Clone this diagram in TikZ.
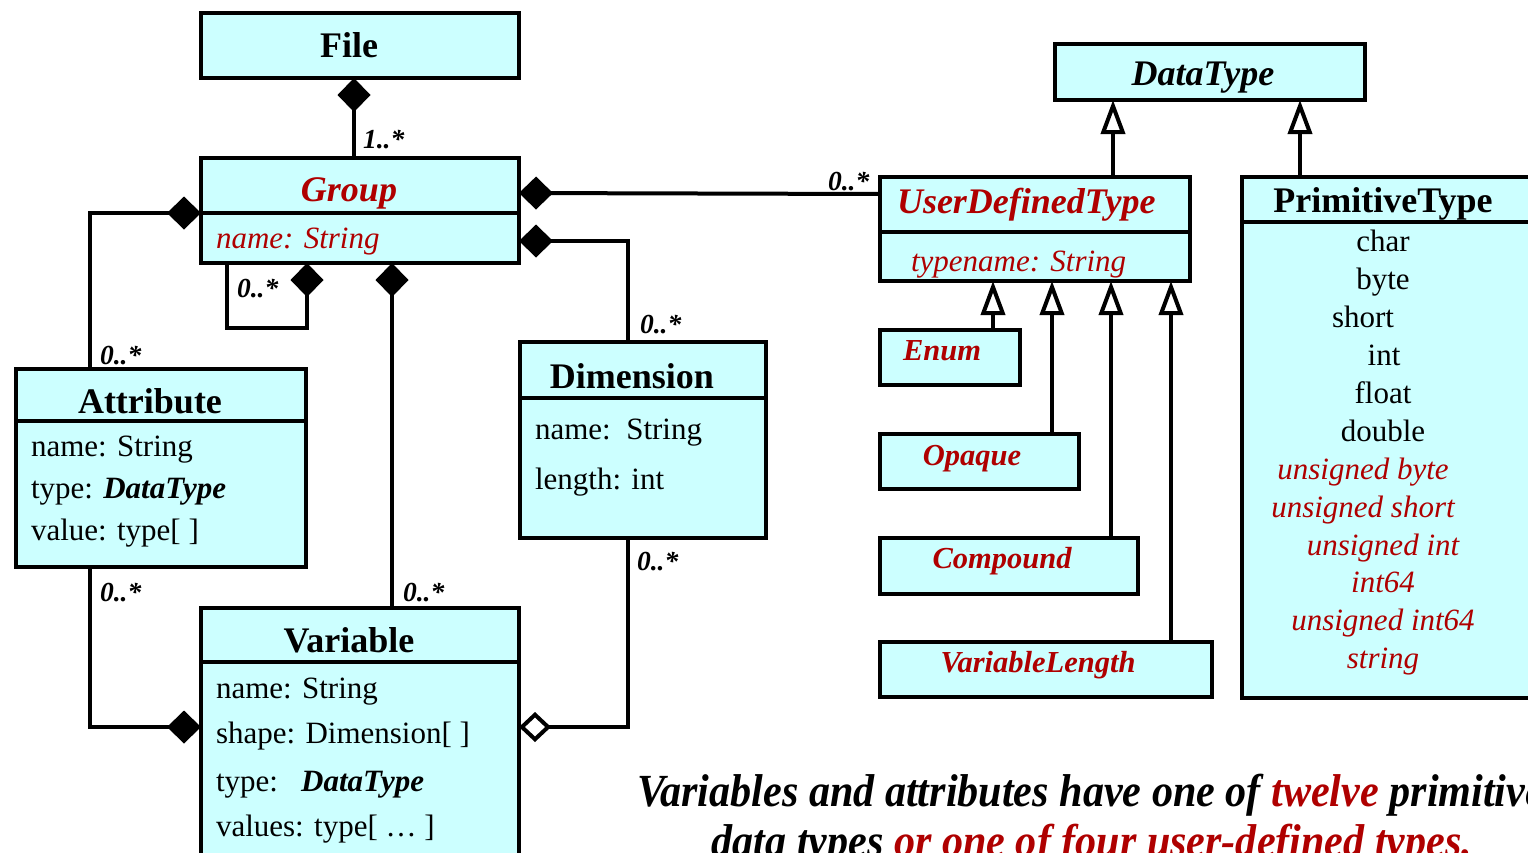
\documentclass[tikz,border=0pt]{standalone}
\usepackage{fontspec}
\setmainfont{Liberation Serif}
\usetikzlibrary{arrows.meta}
\definecolor{boxfill}{RGB}{204,255,255}
\definecolor{dred}{RGB}{175,0,0}
\begin{document}
\begin{tikzpicture}[x=1pt,y=-1pt,
  cls/.style={draw=black, line width=4.5pt, fill=boxfill, rectangle, inner sep=0pt, outer sep=0pt, anchor=north west},
  divider/.style={line width=4.5pt},
  conn/.style={line width=4pt},
  comp/.style={conn, -{Diamond[length=34pt,width=33pt,fill=black]}},
  aggr/.style={conn, -{Diamond[length=32pt,width=30pt,fill=white]}},
  gen/.style={conn, -{Triangle[length=34pt,width=24pt,fill=white]}},
  txt/.style={inner sep=0pt, outer sep=0pt},
  title/.style={txt, anchor=base, font=\fontsize{36}{40}\selectfont\bfseries},
  ititle/.style={txt, anchor=base, text=dred, font=\fontsize{36}{40}\selectfont\bfseries\itshape},
  sub/.style={txt, anchor=base, text=dred, font=\fontsize{30.5}{34}\selectfont\bfseries\itshape},
  body/.style={txt, anchor=base west, font=\fontsize{31}{36}\selectfont},
  ibody/.style={txt, anchor=base west, text=dred, font=\fontsize{31}{36}\selectfont\itshape},
  prim/.style={txt, anchor=base, font=\fontsize{31}{36}\selectfont},
  iprim/.style={txt, anchor=base, text=dred, font=\fontsize{31}{36}\selectfont\itshape},
  mult/.style={txt, anchor=base west, font=\fontsize{27.5}{30}\selectfont\bfseries\itshape},
  capt/.style={txt, font=\fontsize{46}{52}\selectfont\bfseries\itshape}
]
\useasboundingbox (0,0) rectangle (1528,852);
\clip (0,0) rectangle (1528,852);

% boxes
\node[cls, minimum width=318pt, minimum height=65pt] (file) at (201,13) {};
\node[cls, minimum width=318pt, minimum height=105pt] (group) at (201,158) {};
\node[cls, minimum width=290pt, minimum height=198pt] (attr) at (16,369) {};
\node[cls, minimum width=318pt, minimum height=270pt] (var) at (201,608) {};
\node[cls, minimum width=246pt, minimum height=196pt] (dim) at (520,342) {};
\node[cls, minimum width=310pt, minimum height=56pt] (dt) at (1055,44) {};
\node[cls, minimum width=310pt, minimum height=104pt] (udt) at (880,177) {};
\node[cls, minimum width=330pt, minimum height=521pt] (ptype) at (1242,177) {};
\node[cls, minimum width=140pt, minimum height=55pt] (enum) at (880,330) {};
\node[cls, minimum width=199pt, minimum height=55pt] (opaque) at (880,434) {};
\node[cls, minimum width=258pt, minimum height=56pt] (compound) at (880,538) {};
\node[cls, minimum width=332pt, minimum height=55pt] (varlen) at (880,642) {};

% dividers
\draw[divider] (group.west |- 0,213) -- (group.east |- 0,213);
\draw[divider] (attr.west |- 0,421) -- (attr.east |- 0,421);
\draw[divider] (var.west |- 0,662) -- (var.east |- 0,662);
\draw[divider] (dim.west |- 0,398) -- (dim.east |- 0,398);
\draw[divider] (udt.west |- 0,232) -- (udt.east |- 0,232);
\draw[divider] (ptype.west |- 0,222) -- (ptype.east |- 0,222);

% connectors
\draw[comp] (group.north -| 354,0) -- (file.south -| 354,0);
\draw[comp] (attr.north -| 90,0) |- (group.west |- 0,213);
\draw[comp] (group.south -| 227,0) -- ++(0,65) -| (group.south -| 307,0);
\draw[comp] (var.north -| 392,0) -- (group.south -| 392,0);
\draw[comp] (udt.west |- 0,194) -- (group.east |- 0,193);
\draw[comp] (dim.north -| 628,0) |- (group.east |- 0,241);
\draw[comp] (attr.south -| 90,0) |- (var.west |- 0,727);
\draw[aggr] (dim.south -| 628,0) |- (var.east |- 0,727);
\draw[gen] (udt.north -| 1113,0) -- (dt.south -| 1113,0);
\draw[gen] (ptype.north -| 1300,0) -- (dt.south -| 1300,0);
\draw[gen] (enum.north -| 993,0) -- (udt.south -| 993,0);
\draw[gen] (opaque.north -| 1052,0) -- (udt.south -| 1052,0);
\draw[gen] (compound.north -| 1111,0) -- (udt.south -| 1111,0);
\draw[gen] (varlen.north -| 1171,0) -- (udt.south -| 1171,0);

% titles
\node[title] (tfile) at (349,57) {File};
\node[ititle] (tgroup) at (349,201) {Group};
\node[title] (tattr) at (150,413) {Attribute};
\node[title] (tvar) at (349,652) {Variable};
\node[title] (tdim) at (632,388) {Dimension};
\node[title, font=\fontsize{36}{40}\selectfont\bfseries\itshape] (tdt) at (1203,85) {DataType};
\node[ititle, anchor=base west] (tudt) at (897,213) {UserDefinedType};
\node[title] (tprim) at (1383,212) {PrimitiveType};
\node[sub, anchor=base west] (tenum) at (903,360) {Enum};
\node[sub] (topaque) at (972,465) {Opaque};
\node[sub] (tcompound) at (1002,568) {Compound};
\node[sub] (tvarlen) at (1038,672) {VariableLength};

% attributes
\node[ibody] (gname) at (216,248) {name: String};
\node[ibody] (utn) at (911,271) {typename: String};
\node[body] (aname) at (31,456) {name: String};
\node[body] (atype) at (31,498) {type: \textbf{\textit{DataType}}};
\node[body] (aval) at (31,540) {value: type[ ]};
\node[body] (vname) at (216,698) {name: String};
\node[body] (vshape) at (216,743) {shape: Dimension[ ]};
\node[body] (vtype) at (216,791) {type:\hspace{0.75em}\textbf{\textit{DataType}}};
\node[body] (vval) at (216,836) {values: type[ … ]};
\node[body] (dname) at (535,439) {name:\hspace{0.5em}String};
\node[body] (dlen) at (535,489) {length: int};

% primitive list
\node[prim] (p1) at (1383,251) {char};
\node[prim] (p2) at (1383,289) {byte};
\node[prim] (p3) at (1363,327) {short};
\node[prim] (p4) at (1384,365) {int};
\node[prim] (p5) at (1383,403) {float};
\node[prim] (p6) at (1383,441) {double};
\node[iprim] (p7) at (1363,479) {unsigned byte};
\node[iprim] (p8) at (1363,517) {unsigned short};
\node[iprim] (p9) at (1383,555) {unsigned int};
\node[iprim] (p10) at (1383,592) {int64};
\node[iprim] (p11) at (1383,630) {unsigned int64};
\node[iprim] (p12) at (1383,668) {string};

% multiplicities
\node[mult] (m1) at (363,148) {1..*};
\node[mult] (m2) at (100,364) {0..*};
\node[mult] (m3) at (237,297) {0..*};
\node[mult] (m4) at (403,601) {0..*};
\node[mult] (m5) at (100,601) {0..*};
\node[mult] (m6) at (828,190) {0..*};
\node[mult] (m7) at (640,333) {0..*};
\node[mult] (m8) at (637,570) {0..*};

% caption
\node[capt, anchor=base west] (cap1) at (637,806) {\scalebox{0.916}[1]{Variables and attributes have one of \textcolor{dred}{twelve} primitive}};
\node[capt, anchor=base] (cap2) at (1092,856) {\scalebox{0.916}[1]{data types \textcolor{dred}{or one of four user-defined types.}}};
\end{tikzpicture}
\end{document}
